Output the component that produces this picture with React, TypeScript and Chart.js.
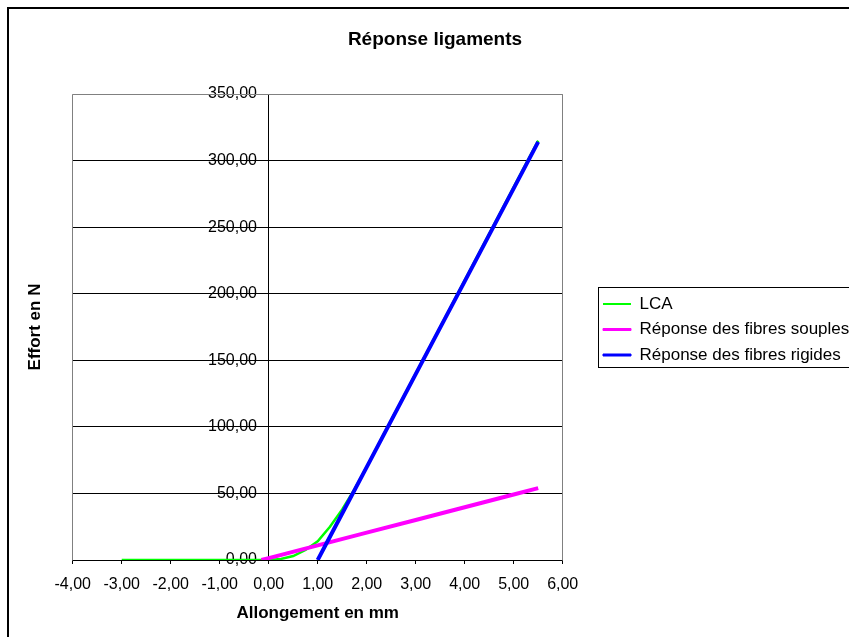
import React, { useEffect, useRef } from 'react';
import { Chart, registerables } from 'chart.js';

Chart.register(...registerables);

const TITLE = 'Réponse ligaments';
const X_TITLE = 'Allongement en mm';
const Y_TITLE = 'Effort en N';
const SERIES_NAMES = ['LCA', 'Réponse des fibres souples', 'Réponse des fibres rigides'];
const SERIES_COLORS = ['#00FF00', '#FF00FF', '#0000FF'];

const X_MIN = -4;
const X_MAX = 6;
const X_STEP = 1;
const Y_MIN = 0;
const Y_MAX = 350;
const Y_STEP = 50;

const lcaX = [-3, -2, -1, 0, 0.25, 0.5, 0.75, 1, 1.25, 1.5, 1.75, 2, 2.5, 3, 3.5, 4, 4.5, 5, 5.5];
const lcaY = [0, 0, 0, 0, 0.8, 3, 7.5, 14, 25, 38, 53, 70, 105, 140, 175, 210, 245, 280, 315];

const souplesX = [-0.15, 0, 1, 2, 3, 4, 5, 5.5];
const souplesY = [0, 1.4, 11, 20.6, 30, 39.6, 49.2, 54];

const rigidesX = [1, 1.5, 2, 2.5, 3, 3.5, 4, 4.5, 5, 5.5];
const rigidesY = [0, 34.9, 69.8, 104.7, 139.6, 174.5, 209.3, 244.2, 279.1, 314];

const FONT = "'Liberation Sans', Arial, Helvetica, sans-serif";

const fmt = (v: number) => Number(v).toFixed(2).replace('.', ',');
const mk = (xs: number[], ys: number[]) => xs.map((x, i) => ({ x, y: ys[i] }));

export default function App() {
  const ref = useRef<HTMLCanvasElement>(null);

  useEffect(() => {
    const canvas = ref.current;
    if (!canvas) return;
    Chart.defaults.font.family = FONT;
    Chart.defaults.color = '#000';

    const CANVAS_W = 856;
    const LEGEND_W = CANVAS_W - 555.7;
    const LEG = { boxLeft: 591, top: 280, bottom: 360, sampleLeft: 596, pad: 8.5 };

    const framePlugin = {
      id: 'frame',
      beforeLayout(chart: any) {
        const lg = chart.legend;
        if (lg && !lg.__patched) {
          const orig = lg.fit.bind(lg);
          lg.fit = function () {
            orig();
            lg.width = LEGEND_W;
          };
          lg.__patched = true;
        }
      },
      beforeDraw(chart: any) {
        const { ctx, width, height } = chart;
        ctx.save();
        ctx.fillStyle = '#ffffff';
        ctx.fillRect(0, 0, width, height);
        ctx.strokeStyle = '#000000';
        ctx.lineWidth = 2;
        ctx.strokeRect(1, 1, width + 20, height + 20);
        ctx.restore();
      },
      afterUpdate(chart: any) {
        const lg = chart.legend;
        if (!lg) return;
        lg.left = LEG.sampleLeft - LEG.pad;
        lg.right = chart.width;
        lg.width = lg.right - lg.left;
        lg.top = LEG.top;
        lg.bottom = chart.height;
        lg.height = lg.bottom - lg.top;
      },
      beforeDatasetsDraw(chart: any) {
        const { ctx, chartArea } = chart;
        const a = (p: number) => Math.round(p - 0.5) + 0.5;
        const l = a(chartArea.left);
        const r = a(chartArea.right);
        const t = a(chartArea.top);
        const b = a(chartArea.bottom);
        ctx.save();
        ctx.strokeStyle = '#808080';
        ctx.lineWidth = 1;
        ctx.beginPath();
        ctx.moveTo(l, b);
        ctx.lineTo(l, t);
        ctx.lineTo(r, t);
        ctx.lineTo(r, b);
        ctx.stroke();
        ctx.restore();
      },
      afterDraw(chart: any) {
        const { ctx } = chart;
        ctx.save();
        ctx.strokeStyle = '#000000';
        ctx.lineWidth = 1;
        ctx.strokeRect(LEG.boxLeft + 0.5, LEG.top + 0.5, chart.width, LEG.bottom - LEG.top);
        ctx.restore();
      },
    };

    const chart = new Chart(canvas, {
      type: 'line',
      data: {
        datasets: [
          {
            label: SERIES_NAMES[0],
            data: mk(lcaX, lcaY),
            borderColor: SERIES_COLORS[0],
            backgroundColor: SERIES_COLORS[0],
            borderWidth: 2.5,
            pointRadius: 0,
            tension: 0,
            order: 3,
          },
          {
            label: SERIES_NAMES[1],
            data: mk(souplesX, souplesY),
            borderColor: SERIES_COLORS[1],
            backgroundColor: SERIES_COLORS[1],
            borderWidth: 4,
            pointRadius: 0,
            tension: 0,
            order: 2,
          },
          {
            label: SERIES_NAMES[2],
            data: mk(rigidesX, rigidesY),
            borderColor: SERIES_COLORS[2],
            backgroundColor: SERIES_COLORS[2],
            borderWidth: 4,
            pointRadius: 0,
            tension: 0,
            order: 1,
          },
        ],
      },
      options: {
        responsive: false,
        devicePixelRatio: 1,
        animation: false,
        layout: { padding: { left: 0, top: 0, right: 0, bottom: 17 } },
        plugins: {
          tooltip: { enabled: false },
          title: {
            display: true,
            text: TITLE,
            color: '#000',
            font: { size: 19, weight: 'bold', family: FONT },
            padding: { top: 21.6, bottom: 42.6 },
          },
          legend: {
            display: true,
            position: 'right',
            align: 'start',
            labels: {
              boxWidth: 28,
              boxHeight: 2,
              padding: 8.5,
              color: '#000',
              font: { size: 17, family: FONT },
              sort: (a: any, b: any) => a.datasetIndex - b.datasetIndex,
              generateLabels: (c: any) => {
                const items = (Chart.defaults.plugins.legend.labels as any).generateLabels(c);
                return items.map((it: any) => ({
                  ...it,
                  fillStyle: SERIES_COLORS[it.datasetIndex],
                  strokeStyle: SERIES_COLORS[it.datasetIndex],
                  lineWidth: it.datasetIndex === 0 ? 0 : 1,
                  lineDash: [],
                }));
              },
            },
          },
        },
        scales: {
          x: {
            type: 'linear',
            position: 'bottom',
            min: X_MIN,
            max: X_MAX,
            ticks: {
              stepSize: X_STEP,
              callback: (v: any) => fmt(v),
              font: { size: 16, family: FONT },
              color: '#000',
              padding: 11.4,
              maxRotation: 0,
              autoSkip: false,
            },
            grid: { drawOnChartArea: false, drawTicks: true, tickLength: 4, color: '#000', lineWidth: 1 },
            border: { display: true, color: '#000', width: 1 },
            title: {
              display: true,
              text: X_TITLE,
              color: '#000',
              font: { size: 17, weight: 'bold', family: FONT },
              padding: { top: 0, bottom: 6.8 },
            },
            afterFit: (s: any) => {
              s.height = 70;
            },
          },
          y: {
            type: 'linear',
            position: { x: 0 },
            min: Y_MIN,
            max: Y_MAX,
            ticks: { stepSize: Y_STEP, display: false },
            grid: {
              drawOnChartArea: true,
              drawTicks: true,
              tickLength: 6,
              lineWidth: 1,
              color: (ctx: any) => (ctx.tick && ctx.tick.value === Y_MAX ? '#808080' : '#000'),
            },
            border: { display: true, color: '#000', width: 1 },
          },
          yLabels: {
            type: 'linear',
            axis: 'y',
            position: { x: -0.24 },
            min: Y_MIN,
            max: Y_MAX,
            ticks: {
              stepSize: Y_STEP,
              callback: (v: any) => fmt(v),
              font: { size: 16, family: FONT },
              color: '#000',
              padding: 0,
            },
            grid: { display: false, drawTicks: false },
            border: { display: false },
          },
          y2: {
            type: 'linear',
            position: 'left',
            min: Y_MIN,
            max: Y_MAX,
            ticks: { display: false },
            grid: { display: false, drawTicks: false },
            border: { display: false },
            title: {
              display: true,
              text: Y_TITLE,
              color: '#000',
              font: { size: 17, weight: 'bold', family: FONT },
              padding: { top: 17.8, bottom: 0 },
            },
            afterFit: (s: any) => {
              s.width = 65.7;
            },
          },
        },
      } as any,
      plugins: [framePlugin],
    });

    return () => chart.destroy();
  }, []);

  return (
    <div
      style={{
        position: 'fixed',
        left: 7,
        top: 7,
        width: 842,
        height: 630,
        overflow: 'hidden',
        background: '#fff',
      }}
    >
      <canvas ref={ref} width={856} height={640} style={{ display: 'block', width: 856, height: 640 }} />
    </div>
  );
}
